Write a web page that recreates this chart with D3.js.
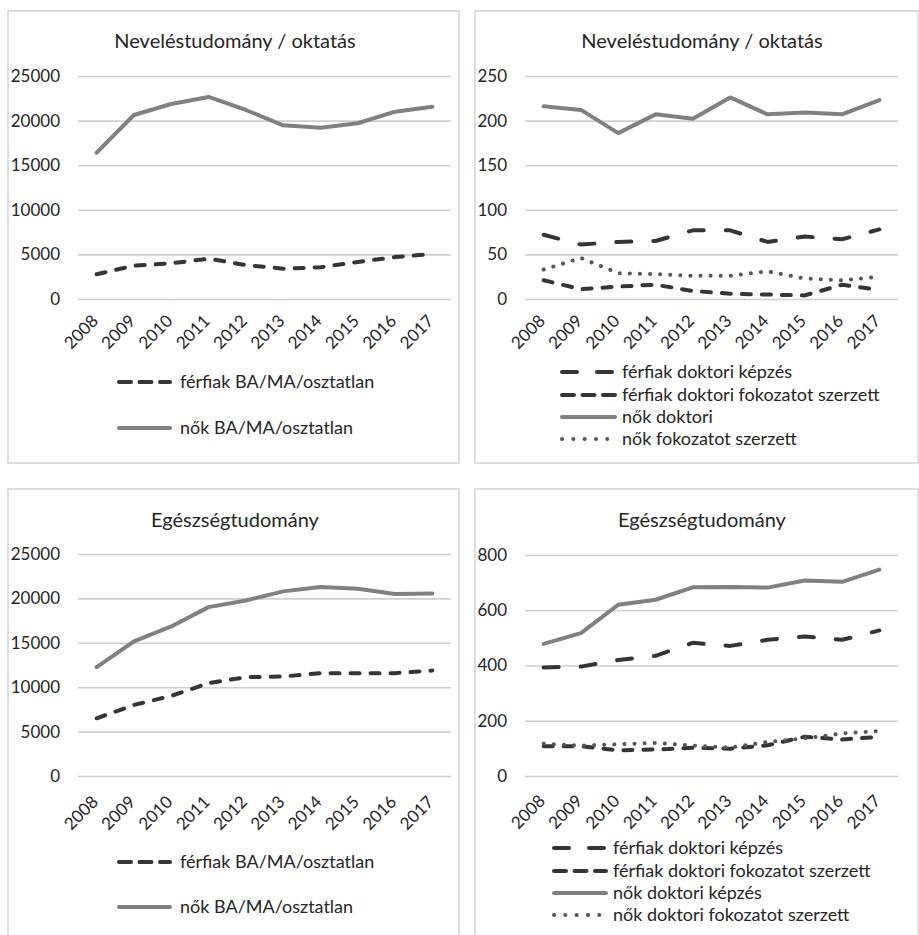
<!DOCTYPE html>
<html>
<head>
<meta charset="utf-8">
<script src="https://cdn.jsdelivr.net/npm/d3@7/dist/d3.min.js"></script>
<style>
  html, body { margin: 0; padding: 0; background: #fff; }
  svg { display: block; }
  text { font-family: Lato, "Open Sans", sans-serif; fill: #262626; }
</style>
</head>
<body>
<svg id="chart" width="919" height="935"></svg>
<script>
// ---------- DATA ----------
const years = ["2008","2009","2010","2011","2012","2013","2014","2015","2016","2017"];

// Neveléstudomány / oktatás – BA/MA/osztatlan
const eduBaMen   = [2770, 3730, 4000, 4520, 3810, 3400, 3550, 4150, 4700, 5040];
const eduBaWomen = [16400, 20630, 21860, 22650, 21190, 19470, 19200, 19700, 21000, 21560];

// Neveléstudomány / oktatás – doktori
const eduPhdMenTraining = [72, 61, 64, 65, 77, 77, 64, 70, 67, 78];
const eduPhdMenDegree   = [21, 11, 14, 16, 9, 6, 5, 4, 16, 10];
const eduPhdWomen       = [216, 212, 186, 207, 202, 226, 207, 209, 207, 223];
const eduPhdWomenDegree = [33, 46, 29, 28, 26, 26, 31, 23, 21, 25];

// Egészségtudomány – BA/MA/osztatlan
const healthBaMen   = [6500, 8000, 9020, 10450, 11130, 11200, 11580, 11580, 11580, 11880];
const healthBaWomen = [12260, 15150, 16840, 19020, 19770, 20790, 21280, 21090, 20490, 20560];

// Egészségtudomány – doktori
const healthPhdMenTraining = [393, 396, 420, 435, 482, 471, 493, 505, 493, 527];
const healthPhdMenDegree   = [108, 108, 93, 96, 102, 99, 111, 142, 132, 142];
const healthPhdWomen       = [478, 517, 620, 638, 683, 684, 682, 708, 703, 747];
const healthPhdWomenDegree = [117, 110, 115, 120, 110, 103, 123, 136, 154, 163];

// Tick labels
const baTicks = [0, 5000, 10000, 15000, 20000, 25000];
const eduPhdTicks = [0, 50, 100, 150, 200, 250];
const healthPhdTicks = [0, 200, 400, 600, 800];

// Titles / legend labels
const titleEdu = "Neveléstudomány / oktatás";
const titleHealth = "Egészségtudomány";
const lblBaMen = "férfiak BA/MA/osztatlan";
const lblBaWomen = "nők BA/MA/osztatlan";
const lblPhdMenTraining = "férfiak doktori képzés";
const lblPhdMenDegree = "férfiak doktori fokozatot szerzett";
const lblEduPhdWomen = "nők doktori";
const lblEduPhdWomenDegree = "nők fokozatot szerzett";
const lblHealthPhdWomen = "nők doktori képzés";
const lblHealthPhdWomenDegree = "nők doktori fokozatot szerzett";

// ---------- STYLES ----------
const styles = {
  shortDash: { color: "#353535", width: 4, dash: "9,11", legendDash: "12,8.5", cap: "round" },
  longDash:  { color: "#353535", width: 4, dash: "15,22", legendDash: "15,20", cap: "round" },
  solid:     { color: "#808080", width: 4, dash: null, legendDash: null, cap: "round" },
  dotted:    { color: "#575757", width: 4, dash: "0.1,10", legendDash: "0.1,11.2", cap: "round" }
};

// ---------- PANELS ----------
const panels = [
  {
    box: [8, 11, 451, 452], plot: [78, 76, 451, 299],
    title: titleEdu, titleX: 235, titleY: 48, ticks: baTicks, max: 25000, tickX: 60, labelDy: 23,
    series: [
      { values: eduBaMen, style: "shortDash", label: lblBaMen },
      { values: eduBaWomen, style: "solid", label: lblBaWomen }
    ],
    legend: { x0: 117, x1: 172, tx: 180, ys: [382, 428] }
  },
  {
    box: [475, 11, 443, 452], plot: [525, 76, 898, 299],
    title: titleEdu, titleX: 702, titleY: 48, ticks: eduPhdTicks, max: 250, tickX: 507, labelDy: 23,
    series: [
      { values: eduPhdMenTraining, style: "longDash", label: lblPhdMenTraining },
      { values: eduPhdMenDegree, style: "shortDash", label: lblPhdMenDegree },
      { values: eduPhdWomen, style: "solid", label: lblEduPhdWomen },
      { values: eduPhdWomenDegree, style: "dotted", label: lblEduPhdWomenDegree }
    ],
    legend: { x0: 560, x1: 617, tx: 622, ys: [372, 395, 417, 439] }
  },
  {
    box: [8, 489, 451, 460], plot: [78, 554, 451, 776],
    title: titleHealth, titleX: 235, titleY: 527, ticks: baTicks, max: 25000, tickX: 60, labelDy: 27,
    series: [
      { values: healthBaMen, style: "shortDash", label: lblBaMen },
      { values: healthBaWomen, style: "solid", label: lblBaWomen }
    ],
    legend: { x0: 117, x1: 172, tx: 180, ys: [862, 907] }
  },
  {
    box: [475, 489, 443, 460], plot: [525, 555, 898, 776],
    title: titleHealth, titleX: 702, titleY: 527, ticks: healthPhdTicks, max: 800, tickX: 507, labelDy: 26,
    series: [
      { values: healthPhdMenTraining, style: "longDash", label: lblPhdMenTraining },
      { values: healthPhdMenDegree, style: "shortDash", label: lblPhdMenDegree },
      { values: healthPhdWomen, style: "solid", label: lblHealthPhdWomen },
      { values: healthPhdWomenDegree, style: "dotted", label: lblHealthPhdWomenDegree }
    ],
    legend: { x0: 552, x1: 608, tx: 613, ys: [848, 871, 893, 915] }
  }
];

const svg = d3.select("#chart");
const gridColor = "#cfcfcf";

function applyStyle(sel, st, dash) {
  sel.attr("fill", "none")
     .attr("stroke", st.color)
     .attr("stroke-width", st.width)
     .attr("stroke-linecap", st.cap)
     .attr("stroke-linejoin", "round");
  if (dash) sel.attr("stroke-dasharray", dash);
}

panels.forEach(p => {
  const g = svg.append("g");
  // border
  g.append("rect")
    .attr("x", p.box[0]).attr("y", p.box[1])
    .attr("width", p.box[2]).attr("height", p.box[3])
    .attr("fill", "#fff").attr("stroke", "#d4d4d4").attr("stroke-width", 1.5);

  const [x0, y0, x1, y1] = p.plot;
  const x = d3.scalePoint().domain(years).range([x0, x1]).padding(0.5);
  const y = d3.scaleLinear().domain([0, p.max]).range([y1, y0]);

  // title
  g.append("text")
    .attr("x", p.titleX)
    .attr("y", p.titleY)
    .attr("text-anchor", "middle")
    .attr("font-size", 20)
    .text(p.title);

  // y axis with gridlines
  const yAxis = d3.axisLeft(y).tickValues(p.ticks).tickSize(-(x1 - x0)).tickPadding(0)
    .tickFormat(d3.format("d"));
  const ya = g.append("g").attr("transform", `translate(${x0},0)`).call(yAxis);
  ya.select(".domain").remove();
  ya.selectAll(".tick line").attr("stroke", gridColor).attr("stroke-width", 1.6);
  ya.selectAll(".tick text")
    .attr("x", p.tickX - x0)
    .attr("font-size", 17)
    .attr("font-family", "Lato, sans-serif")
    .attr("fill", "#262626");

  // x axis
  const xAxis = d3.axisBottom(x).tickSize(0).tickPadding(0);
  const xa = g.append("g").attr("transform", `translate(0,${y1})`).call(xAxis);
  xa.select(".domain").remove();
  xa.selectAll(".tick text")
    .attr("font-size", 17)
    .attr("font-family", "Lato, sans-serif")
    .attr("fill", "#262626")
    .attr("text-anchor", "end")
    .attr("dy", "0")
    .attr("y", 0)
    .attr("transform", `translate(2,${p.labelDy}) rotate(-45)`);

  // series lines
  const line = d3.line().x((d, i) => x(years[i])).y(d => y(d));
  p.series.forEach(s => {
    const st = styles[s.style];
    const path = g.append("path").datum(s.values).attr("d", line);
    applyStyle(path, st, st.dash);
  });

  // legend
  p.series.forEach((s, i) => {
    const ly = p.legend.ys[i];
    const st = styles[s.style];
    const l = g.append("line")
      .attr("x1", p.legend.x0 + 2).attr("x2", p.legend.x1 - 2)
      .attr("y1", ly).attr("y2", ly);
    applyStyle(l, st, st.legendDash);
    g.append("text")
      .attr("x", p.legend.tx).attr("y", ly)
      .attr("dy", "0.35em")
      .attr("font-size", 18)
      .text(s.label);
  });
});
</script>
</body>
</html>
